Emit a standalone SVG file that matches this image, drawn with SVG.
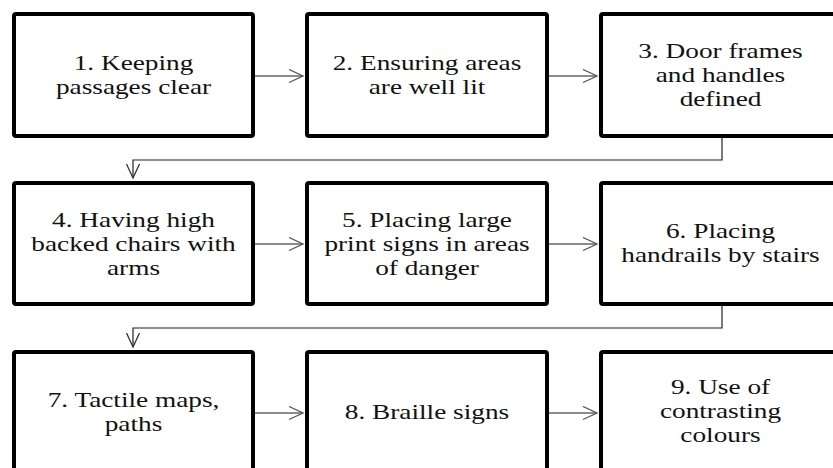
<svg xmlns="http://www.w3.org/2000/svg" width="833" height="468" viewBox="0 0 833 468">
<defs>
<style>
.box{fill:#fff;stroke:#000;stroke-width:4;}
.t{font-family:"Liberation Serif","Times New Roman",serif;font-size:22px;fill:#111;text-anchor:middle;}
.ha{fill:none;stroke:#666;stroke-width:1.3;}
.el{fill:none;stroke:#222;stroke-width:1.2;}
</style>
<marker id="ah" markerUnits="userSpaceOnUse" markerWidth="18" markerHeight="16" refX="15" refY="7" orient="auto">
<path d="M1,0.5 L15,7 L1,13.5" fill="none" stroke="#555" stroke-width="1.3"/>
</marker>
<marker id="ad" markerUnits="userSpaceOnUse" markerWidth="18" markerHeight="16" refX="15" refY="7" orient="auto">
<path d="M1,0.5 L15,7 L1,13.5" fill="none" stroke="#333" stroke-width="1.3"/>
</marker>
</defs>
<rect width="833" height="468" fill="#fff"/>
<g id="connectors">
<line class="ha" x1="255" y1="76" x2="303" y2="76" marker-end="url(#ah)"/>
<line class="ha" x1="549" y1="76" x2="597" y2="76" marker-end="url(#ah)"/>
<path class="el" d="M722,138 V160 H133 V178" marker-end="url(#ad)"/>
<line class="ha" x1="255" y1="244" x2="303" y2="244" marker-end="url(#ah)"/>
<line class="ha" x1="549" y1="244" x2="597" y2="244" marker-end="url(#ah)"/>
<path class="el" d="M722,306 V328 H133 V347" marker-end="url(#ad)"/>
<line class="ha" x1="255" y1="413" x2="303" y2="413" marker-end="url(#ah)"/>
<line class="ha" x1="549" y1="413" x2="597" y2="413" marker-end="url(#ah)"/>
</g>
<g id="n1"><rect class="box" x="14" y="14" width="239" height="122" rx="2"/>
<g transform="translate(133.5,0) scale(1.24,1)"><text class="t" x="0" y="70">1. Keeping</text><text class="t" x="0" y="94">passages clear</text></g></g>
<g id="n2"><rect class="box" x="307" y="14" width="240" height="122" rx="2"/>
<g transform="translate(427,0) scale(1.24,1)"><text class="t" x="0" y="70">2. Ensuring areas</text><text class="t" x="0" y="94">are well lit</text></g></g>
<g id="n3"><rect class="box" x="601" y="14" width="240" height="122" rx="2"/>
<g transform="translate(720.5,0) scale(1.24,1)"><text class="t" x="0" y="58">3. Door frames</text><text class="t" x="0" y="82">and handles</text><text class="t" x="0" y="106">defined</text></g></g>
<g id="n4"><rect class="box" x="14" y="183" width="239" height="121" rx="2"/>
<g transform="translate(133.5,0) scale(1.24,1)"><text class="t" x="0" y="227">4. Having high</text><text class="t" x="0" y="251">backed chairs with</text><text class="t" x="0" y="275">arms</text></g></g>
<g id="n5"><rect class="box" x="307" y="183" width="240" height="121" rx="2"/>
<g transform="translate(427,0) scale(1.24,1)"><text class="t" x="0" y="227">5. Placing large</text><text class="t" x="0" y="251">print signs in areas</text><text class="t" x="0" y="275">of danger</text></g></g>
<g id="n6"><rect class="box" x="601" y="183" width="240" height="121" rx="2"/>
<g transform="translate(720.5,0) scale(1.24,1)"><text class="t" x="0" y="238">6. Placing</text><text class="t" x="0" y="262">handrails by stairs</text></g></g>
<g id="n7"><rect class="box" x="14" y="352" width="239" height="122" rx="2"/>
<g transform="translate(133.5,0) scale(1.24,1)"><text class="t" x="0" y="407">7. Tactile maps,</text><text class="t" x="0" y="431">paths</text></g></g>
<g id="n8"><rect class="box" x="307" y="352" width="240" height="122" rx="2"/>
<g transform="translate(427,0) scale(1.24,1)"><text class="t" x="0" y="419">8. Braille signs</text></g></g>
<g id="n9"><rect class="box" x="601" y="352" width="240" height="122" rx="2"/>
<g transform="translate(720.5,0) scale(1.24,1)"><text class="t" x="0" y="394">9. Use of</text><text class="t" x="0" y="418">contrasting</text><text class="t" x="0" y="442">colours</text></g></g>
</svg>
